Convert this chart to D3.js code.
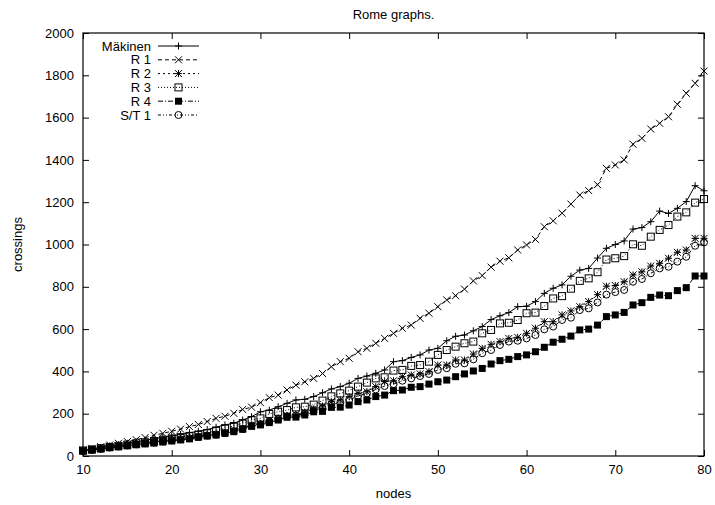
<!DOCTYPE html>
<html>
<head>
<meta charset="utf-8">
<script src="https://cdn.jsdelivr.net/npm/d3@7"></script>
<style>
  html, body { margin: 0; padding: 0; background: #fff; }
  svg text { font-family: "Liberation Sans", Arial, Helvetica, sans-serif; fill: #000; }
</style>
</head>
<body>
<svg id="chart" width="715" height="505"></svg>
<script>
// Node counts on the x axis
const nodes = d3.range(10, 81);

// Average crossings per heuristic
const makinen = [27,33,40,47,53,60,67,74,81,88,95,102,110,117,125,136,147,155,170,186,209,217,233,249,265,268,281,299,317,328,344,367,378,391,407,446,451,466,478,501,509,545,566,572,592,612,645,663,678,706,708,730,769,793,809,850,879,887,936,982,1000,1017,1073,1080,1108,1158,1147,1171,1203,1278,1254];
const r1 = [28,36,44,52,60,68,77,87,98,107,117,127,139,149,163,178,188,202,220,231,252,276,288,312,335,351,367,390,422,446,462,493,509,533,556,580,604,619,651,675,706,738,758,789,828,853,893,921,937,974,998,1024,1084,1112,1148,1191,1234,1255,1283,1360,1376,1400,1474,1502,1546,1573,1604,1663,1715,1762,1820];
const r2 = [25,30,35,41,46,51,57,62,66,71,76,81,87,94,99,104,112,121,132,146,154,167,179,192,196,208,223,236,257,265,281,296,304,328,352,356,375,383,388,399,430,430,454,454,482,509,528,541,556,561,580,604,635,635,667,686,706,730,763,803,806,824,856,871,898,911,935,963,974,1029,1029];
const r3 = [26,31,37,43,48,54,60,65,71,77,83,89,95,101,108,120,131,142,155,170,178,199,209,217,230,233,243,262,282,296,309,328,347,367,372,404,407,426,430,446,478,501,517,533,541,580,596,627,630,643,675,678,709,745,756,791,828,840,869,929,935,945,1001,994,1037,1069,1092,1132,1152,1198,1215];
const r4 = [23,28,33,39,43,48,53,57,61,66,71,76,81,88,94,99,107,115,126,140,147,158,170,183,184,194,209,211,230,231,241,257,265,281,288,309,312,325,328,340,351,359,375,388,402,414,435,451,457,470,478,493,514,538,552,567,596,600,619,659,667,679,714,725,750,761,758,782,796,851,851];
const st1 = [24,29,34,40,45,50,55,60,64,69,74,79,84,91,97,101,109,118,129,144,151,163,175,188,191,202,217,225,246,252,265,284,296,315,331,340,356,367,378,388,407,415,436,438,457,486,501,525,541,545,556,572,599,612,643,654,690,698,726,763,775,785,824,837,864,887,895,919,942,994,1010];

const seriesNames = ["Mäkinen", "R 1", "R 2", "R 3", "R 4", "S/T 1"];
const seriesValues = [makinen, r1, r2, r3, r4, st1];

// Axis ticks
const xTicks = [10, 20, 30, 40, 50, 60, 70, 80];
const yTicks = [0, 200, 400, 600, 800, 1000, 1200, 1400, 1600, 1800, 2000];

// Per-series drawing style
const styles = [
  { dash: null,        marker: "plus" },
  { dash: "4,3",       marker: "cross" },
  { dash: "2,3",       marker: "star" },
  { dash: "1,2",       marker: "box" },
  { dash: "5,2,1,2",   marker: "fbox" },
  { dash: "3,2,1,2,1,2", marker: "circle" }
];

const svg = d3.select("#chart");
const m = { left: 83, right: 704, top: 33, bottom: 456 };

const x = d3.scaleLinear().domain([10, 80]).range([m.left, m.right]);
const y = d3.scaleLinear().domain([0, 2000]).range([m.bottom, m.top]);

const fontSize = 13;
const plain = d3.format("d");

// Axes with inward ticks on every side
const gx = svg.append("g").attr("transform", `translate(0,${m.bottom})`)
  .call(d3.axisBottom(x).tickValues(xTicks).tickFormat(plain).tickSizeInner(-6).tickSizeOuter(0).tickPadding(9));
const gxt = svg.append("g").attr("transform", `translate(0,${m.top})`)
  .call(d3.axisTop(x).tickValues(xTicks).tickSizeInner(-6).tickSizeOuter(0).tickFormat(""));
const gy = svg.append("g").attr("transform", `translate(${m.left},0)`)
  .call(d3.axisLeft(y).tickValues(yTicks).tickFormat(plain).tickSizeInner(-6).tickSizeOuter(0).tickPadding(9));
const gyr = svg.append("g").attr("transform", `translate(${m.right},0)`)
  .call(d3.axisRight(y).tickValues(yTicks).tickSizeInner(-6).tickSizeOuter(0).tickFormat(""));

[gx, gxt, gy, gyr].forEach(g => {
  g.select(".domain").remove();
  g.selectAll("line").attr("stroke", "#000").attr("stroke-width", 1);
  g.selectAll("text").style("font-size", fontSize + "px").style("font-family", "Liberation Sans, Arial, sans-serif").attr("fill", "#000");
});

// Plot border
svg.append("rect")
  .attr("x", m.left).attr("y", m.top)
  .attr("width", m.right - m.left).attr("height", m.bottom - m.top)
  .attr("fill", "none").attr("stroke", "#000").attr("stroke-width", 1.2);

// Title and axis labels
svg.append("text").attr("x", (m.left + m.right) / 2).attr("y", 19)
  .attr("text-anchor", "middle").style("font-size", "13px").text("Rome graphs.");
svg.append("text").attr("x", (m.left + m.right) / 2).attr("y", 498)
  .attr("text-anchor", "middle").style("font-size", fontSize + "px").text("nodes");
svg.append("text").attr("transform", `translate(22,${(m.top + m.bottom) / 2}) rotate(-90)`)
  .attr("text-anchor", "middle").style("font-size", fontSize + "px").text("crossings");

// Marker drawing
function drawMarker(g, kind, cx, cy) {
  const h = 3.5;
  if (kind === "plus" || kind === "star") {
    g.append("path").attr("d", `M${cx - h},${cy}H${cx + h}M${cx},${cy - h}V${cy + h}`)
      .attr("stroke", "#000").attr("stroke-width", 1).attr("fill", "none");
  }
  if (kind === "cross" || kind === "star") {
    g.append("path").attr("d", `M${cx - h},${cy - h}L${cx + h},${cy + h}M${cx - h},${cy + h}L${cx + h},${cy - h}`)
      .attr("stroke", "#000").attr("stroke-width", 1).attr("fill", "none");
  }
  if (kind === "box") {
    g.append("rect").attr("x", cx - h).attr("y", cy - h).attr("width", 2 * h).attr("height", 2 * h)
      .attr("stroke", "#000").attr("stroke-width", 1).attr("fill", "none");
  }
  if (kind === "fbox") {
    g.append("rect").attr("x", cx - h).attr("y", cy - h).attr("width", 2 * h).attr("height", 2 * h)
      .attr("fill", "#000");
  }
  if (kind === "circle") {
    g.append("circle").attr("cx", cx).attr("cy", cy).attr("r", h)
      .attr("stroke", "#000").attr("stroke-width", 1).attr("fill", "none");
  }
}

const plot = svg.append("g");
const line = d3.line().x((d, i) => x(nodes[i])).y(d => y(d));

seriesValues.forEach((vals, si) => {
  const st = styles[si];
  const g = plot.append("g");
  g.append("path").datum(vals).attr("d", line)
    .attr("fill", "none").attr("stroke", "#000").attr("stroke-width", 1)
    .attr("stroke-dasharray", st.dash);
  vals.forEach((v, i) => drawMarker(g, st.marker, x(nodes[i]), y(v)));
});

// Legend
const legend = svg.append("g");
seriesNames.forEach((name, si) => {
  const ly = 46 + si * 13.8;
  legend.append("text").attr("x", 151).attr("y", ly).attr("dy", "0.35em")
    .attr("text-anchor", "end").style("font-size", fontSize + "px").text(name);
  legend.append("line").attr("x1", 158).attr("x2", 199).attr("y1", ly).attr("y2", ly)
    .attr("stroke", "#000").attr("stroke-width", 1).attr("stroke-dasharray", styles[si].dash);
  drawMarker(legend, styles[si].marker, 178.5, ly);
});
</script>
</body>
</html>
